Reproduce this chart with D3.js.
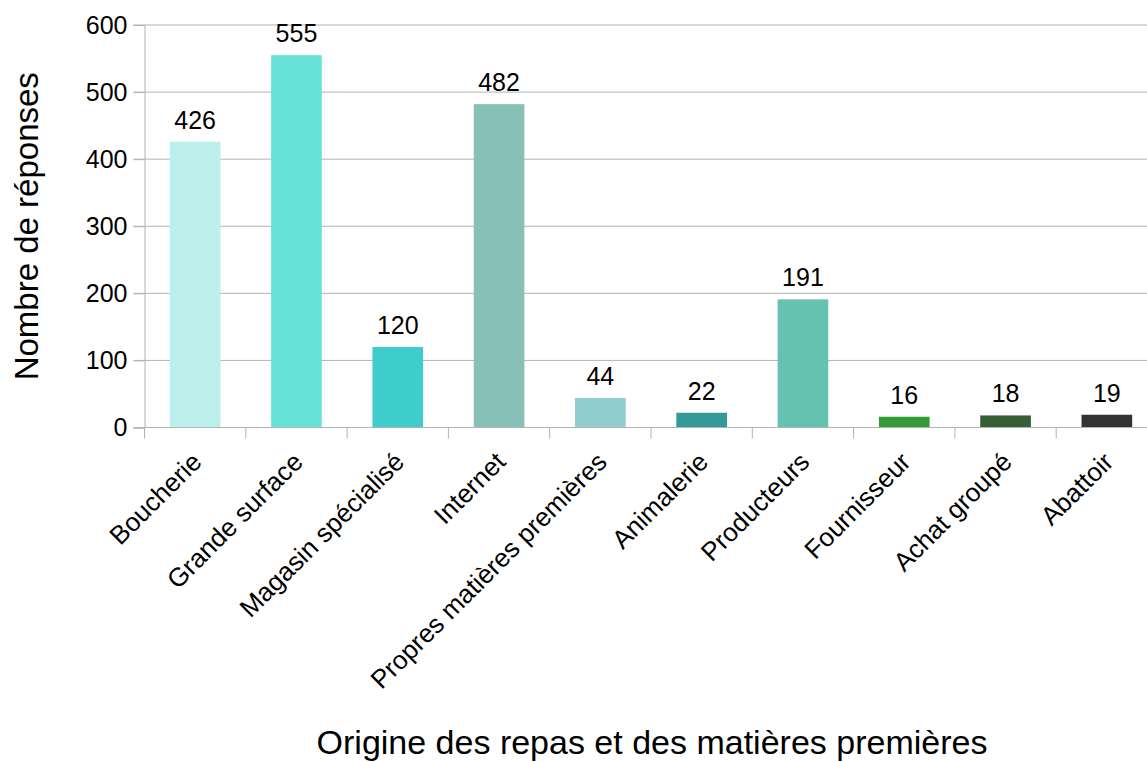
<!DOCTYPE html>
<html>
<head>
<meta charset="utf-8">
<script src="https://cdn.jsdelivr.net/npm/d3@7"></script>
<style>
  html, body { margin: 0; padding: 0; background: #fff; }
  svg { display: block; font-family: "Liberation Sans", Arial, sans-serif; }
</style>
</head>
<body>
<svg id="chart" width="1147" height="762"></svg>
<script>
// Survey answers: where meals and raw materials come from
const categories = [
  "Boucherie", "Grande surface", "Magasin spécialisé", "Internet",
  "Propres matières premières", "Animalerie", "Producteurs",
  "Fournisseur", "Achat groupé", "Abattoir"
];
const responses = [426, 555, 120, 482, 44, 22, 191, 16, 18, 19];
const barColors = [
  "#bdefed", "#66e3d6", "#3fcdcc", "#86c0b6", "#8fcdce",
  "#329a98", "#65c1b0", "#349a35", "#355e35", "#333333"
];
const yTicks = [0, 100, 200, 300, 400, 500, 600];
const xTitle = "Origine des repas et des matières premières";
const yTitle = "Nombre de réponses";

const svg = d3.select("#chart");
const plot = { left: 144.5, right: 1157.5, top: 25, bottom: 427.5 };

const x = d3.scaleBand().domain(categories).range([plot.left, plot.right]).padding(0);
const y = d3.scaleLinear().domain([0, 600]).range([plot.bottom, plot.top]);

const gridColor = "#b3b3b3";

// horizontal grid lines
svg.append("g")
  .selectAll("line")
  .data(yTicks)
  .join("line")
  .attr("x1", plot.left - 11)
  .attr("x2", plot.right)
  .attr("y1", d => y(d))
  .attr("y2", d => y(d))
  .attr("stroke", gridColor)
  .attr("stroke-width", 1);

// y axis
const yAxis = svg.append("g")
  .attr("transform", `translate(${plot.left},0)`)
  .call(d3.axisLeft(y).tickValues(yTicks).tickSize(11).tickPadding(6));
yAxis.select(".domain").attr("stroke", gridColor);
yAxis.selectAll(".tick line").attr("stroke", gridColor);
yAxis.selectAll(".tick text")
  .attr("font-size", 25)
  .attr("fill", "#000")
  .attr("font-family", "Liberation Sans, Arial, sans-serif");

// bars
const barW = x.bandwidth() * 0.5;
svg.append("g")
  .selectAll("rect")
  .data(categories)
  .join("rect")
  .attr("x", (d) => x(d) + (x.bandwidth() - barW) / 2)
  .attr("y", (d, i) => y(responses[i]))
  .attr("width", barW)
  .attr("height", (d, i) => y(0) - y(responses[i]))
  .attr("fill", (d, i) => barColors[i]);

// value labels
svg.append("g")
  .selectAll("text")
  .data(categories)
  .join("text")
  .attr("x", d => x(d) + x.bandwidth() / 2)
  .attr("y", (d, i) => y(responses[i]) - 13)
  .attr("text-anchor", "middle")
  .attr("font-size", 25)
  .attr("fill", "#000")
  .text((d, i) => responses[i]);

// x axis with category boundary ticks
const xAxis = svg.append("g");
xAxis.append("line")
  .attr("x1", plot.left).attr("x2", plot.right)
  .attr("y1", plot.bottom).attr("y2", plot.bottom)
  .attr("stroke", gridColor);
const bounds = categories.map(d => x(d)).concat([plot.right]);
xAxis.selectAll("line.sep")
  .data(bounds)
  .join("line")
  .attr("class", "sep")
  .attr("x1", d => d).attr("x2", d => d)
  .attr("y1", plot.bottom).attr("y2", plot.bottom + 11)
  .attr("stroke", gridColor);

// rotated category labels
xAxis.selectAll("text")
  .data(categories)
  .join("text")
  .attr("transform", d => `translate(${x(d) + x.bandwidth() / 2 + 8},${plot.bottom + 36}) rotate(-45)`)
  .attr("text-anchor", "end")
  .attr("font-size", 26)
  .attr("fill", "#000")
  .text(d => d);

// axis titles
svg.append("text")
  .attr("transform", `translate(38,${(plot.top + plot.bottom) / 2}) rotate(-90)`)
  .attr("text-anchor", "middle")
  .attr("font-size", 33)
  .attr("fill", "#000")
  .text(yTitle);

svg.append("text")
  .attr("x", 652)
  .attr("y", 754)
  .attr("text-anchor", "middle")
  .attr("font-size", 34)
  .attr("fill", "#000")
  .text(xTitle);
</script>
</body>
</html>
